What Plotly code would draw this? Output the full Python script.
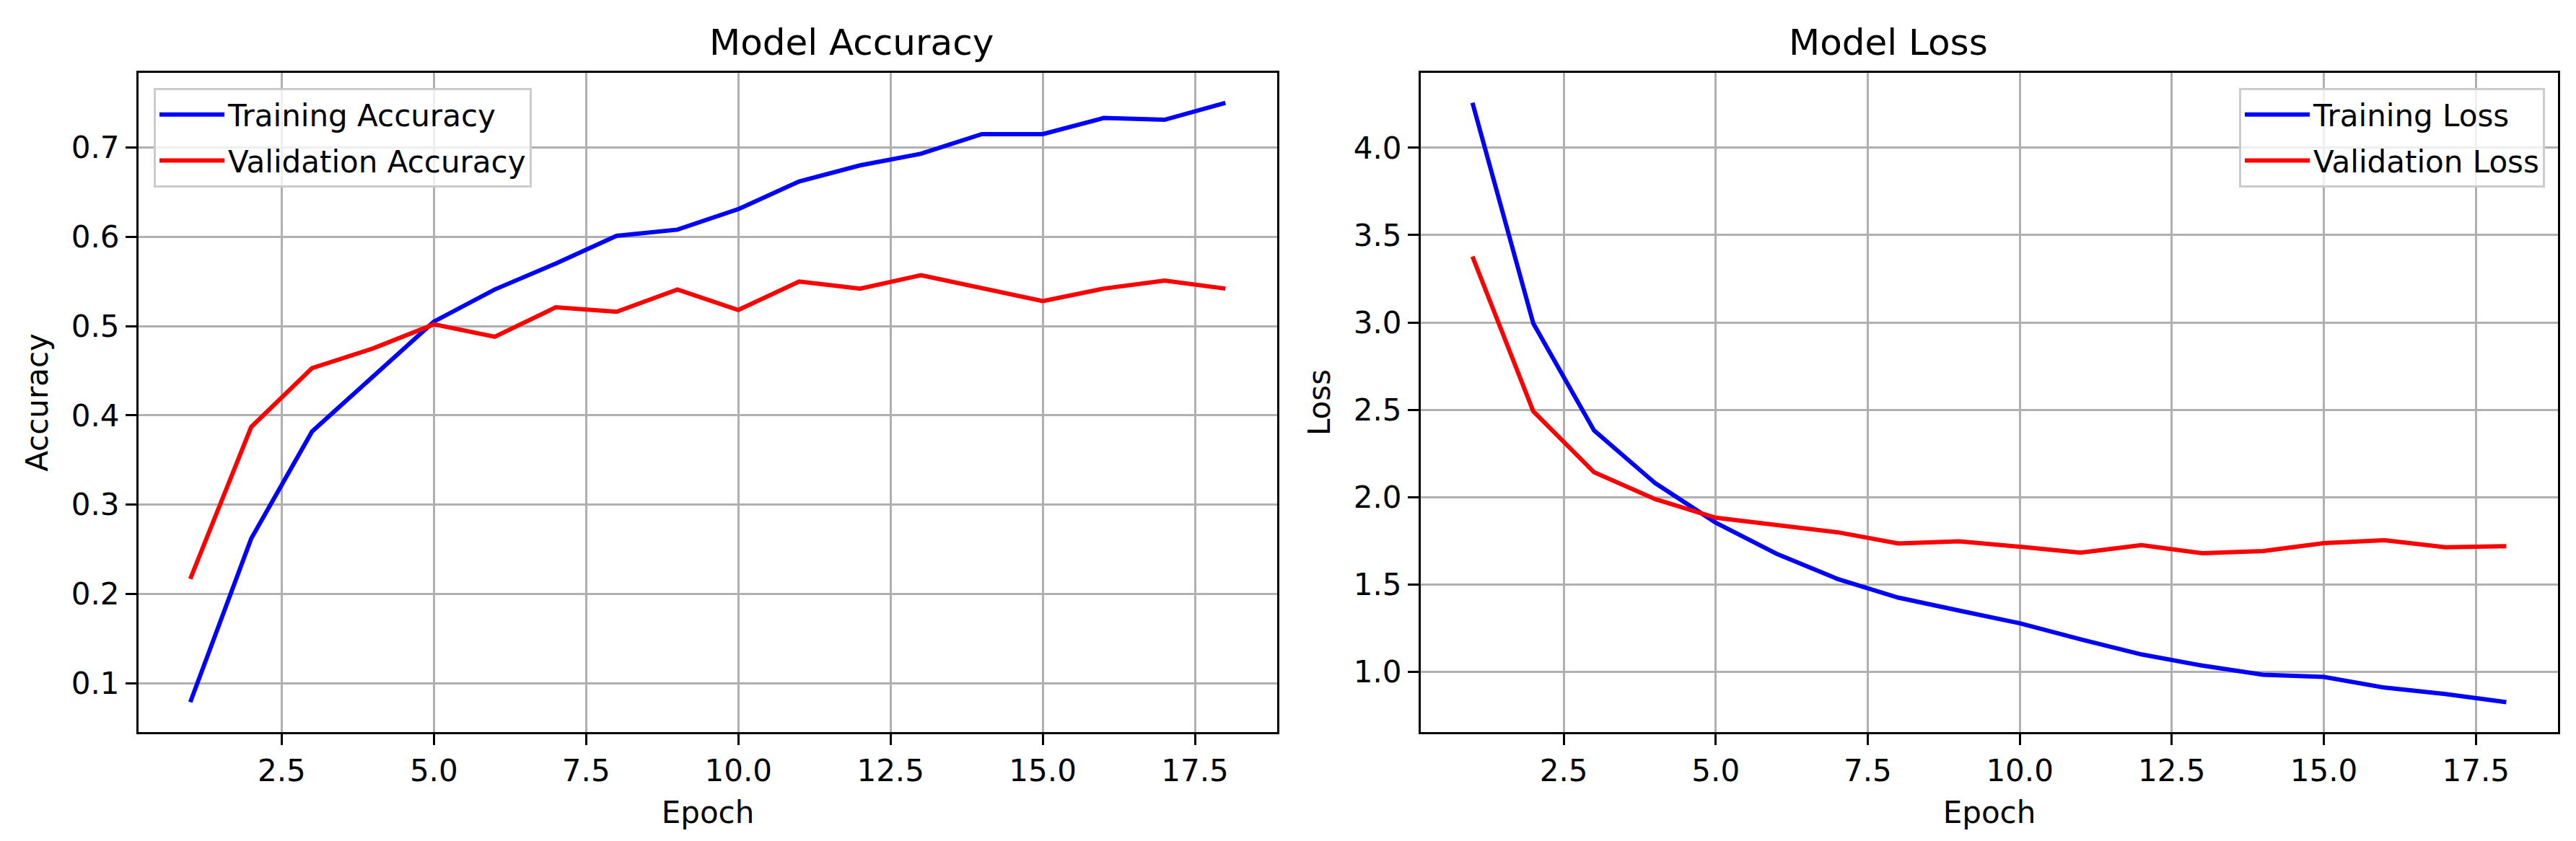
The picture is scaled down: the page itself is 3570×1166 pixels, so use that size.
import plotly.graph_objects as go

# Training history
epochs = list(range(1, 19))
train_acc = [0.079, 0.262, 0.382, 0.444, 0.505, 0.541, 0.570, 0.601, 0.608,
             0.631, 0.662, 0.680, 0.693, 0.715, 0.715, 0.733, 0.731, 0.750]
val_acc = [0.217, 0.387, 0.453, 0.475, 0.502, 0.488, 0.521, 0.516, 0.541,
           0.518, 0.550, 0.542, 0.557, 0.543, 0.528, 0.542, 0.551, 0.542]
train_loss = [4.257, 2.995, 2.382, 2.082, 1.855, 1.677, 1.533, 1.426, 1.352,
              1.279, 1.187, 1.101, 1.037, 0.985, 0.972, 0.911, 0.874, 0.828]
val_loss = [3.378, 2.492, 2.143, 1.990, 1.883, 1.840, 1.800, 1.736, 1.748,
            1.717, 1.683, 1.726, 1.680, 1.692, 1.738, 1.754, 1.714, 1.720]

W, H = 3570, 1166
FONT = "DejaVu Sans"


def auto_range(*series):
    # matplotlib-style 5% padding
    lo = min(min(s) for s in series)
    hi = max(max(s) for s in series)
    pad = (hi - lo) * 0.05
    return [lo - pad, hi + pad]


fig = go.Figure()

traces = [
    (train_acc, "Training Accuracy", "blue", "x", "y", "legend"),
    (val_acc, "Validation Accuracy", "red", "x", "y", "legend"),
    (train_loss, "Training Loss", "blue", "x2", "y2", "legend2"),
    (val_loss, "Validation Loss", "red", "x2", "y2", "legend2"),
]
for vals, name, color, xa, ya, lg in traces:
    fig.add_trace(go.Scatter(x=epochs, y=vals, mode="lines", name=name,
                             line=dict(color=color, width=6), xaxis=xa, yaxis=ya,
                             legend=lg, legendgroup=name))

axis_style = dict(
    showline=True, mirror=True, linecolor="black", linewidth=3,
    showgrid=True, gridcolor="#b0b0b0", gridwidth=3,
    ticks="outside", ticklen=15, tickwidth=3, tickcolor="black",
    zeroline=False, tickfont=dict(family=FONT, size=42, color="black"),
    tickformat=".1f",
)

xr = auto_range(epochs)
dom_y = [1 - 1007 / H, 1 - 93 / H]
dom_x1 = [184 / W, 1762 / W]
dom_x2 = [1961 / W, 3537 / W]

legend_style = dict(yanchor="top", bgcolor="rgba(255,255,255,0.8)", bordercolor="#cccccc",
                    borderwidth=3, font=dict(family=FONT, size=42), itemwidth=90,
                    tracegroupgap=6)

fig.update_layout(
    width=W, height=H,
    margin=dict(l=0, r=0, t=0, b=0),
    paper_bgcolor="white", plot_bgcolor="white",
    font=dict(family=FONT, size=42, color="black"),
    xaxis=dict(axis_style, domain=dom_x1, anchor="y", range=xr, tick0=2.5, dtick=2.5,
               title=dict(text="Epoch", font=dict(size=42), standoff=20)),
    yaxis=dict(axis_style, domain=dom_y, anchor="x", range=auto_range(train_acc, val_acc),
               dtick=0.1, title=dict(text="Accuracy", font=dict(size=42), standoff=20)),
    xaxis2=dict(axis_style, domain=dom_x2, anchor="y2", range=xr, tick0=2.5, dtick=2.5,
                title=dict(text="Epoch", font=dict(size=42), standoff=20)),
    yaxis2=dict(axis_style, domain=dom_y, anchor="x2", range=auto_range(train_loss, val_loss),
                dtick=0.5, title=dict(text="Loss", font=dict(size=42), standoff=20)),
    legend=dict(legend_style, x=205 / W, y=1 - 114 / H, xanchor="left"),
    legend2=dict(legend_style, x=3519 / W, y=1 - 114 / H, xanchor="right"),
    annotations=[
        dict(text="Model Accuracy", x=(dom_x1[0] + dom_x1[1]) / 2, y=1 - 51 / H,
             xref="paper", yref="paper", showarrow=False, yanchor="middle",
             font=dict(family=FONT, size=50)),
        dict(text="Model Loss", x=(dom_x2[0] + dom_x2[1]) / 2, y=1 - 51 / H,
             xref="paper", yref="paper", showarrow=False, yanchor="middle",
             font=dict(family=FONT, size=50)),
    ],
)

fig.write_html("out.html")
